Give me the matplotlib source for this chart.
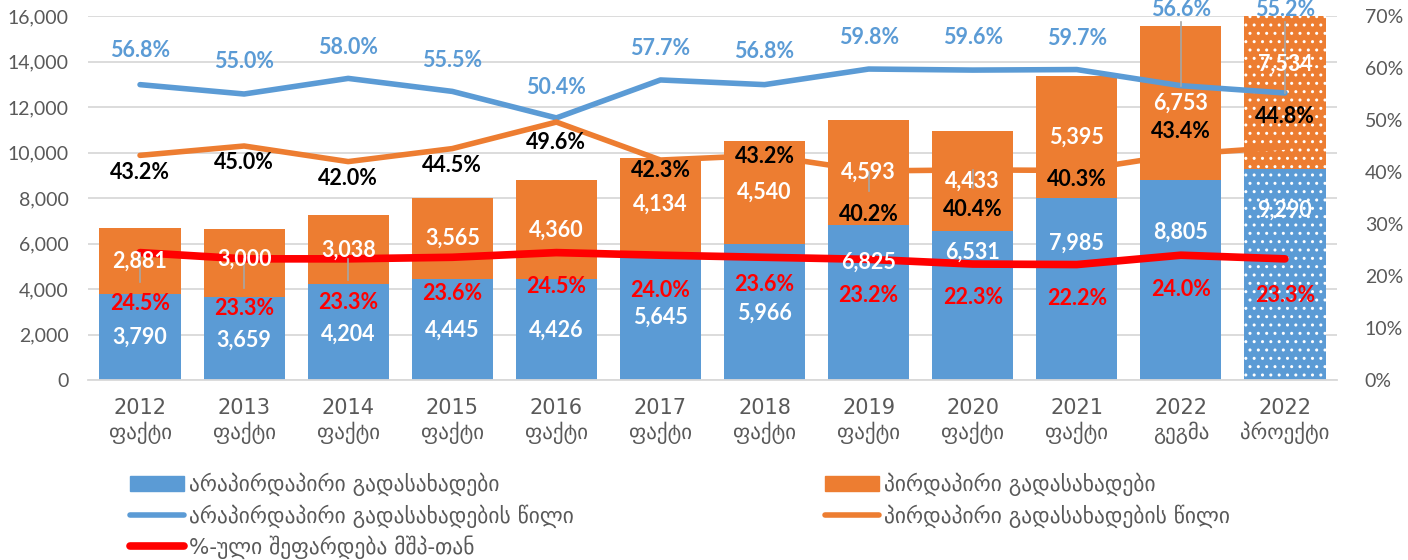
import matplotlib
matplotlib.use("Agg")
import matplotlib.pyplot as plt
from matplotlib.ticker import FuncFormatter
from matplotlib.patches import Patch
from matplotlib.lines import Line2D
import numpy as np

# data
years = ['2012', '2013', '2014', '2015', '2016', '2017', '2018', '2019', '2020', '2021', '2022', '2022']
kinds = ['ფაქტი'] * 10 + ['გეგმა', 'პროექტი']
indirect = [3790, 3659, 4204, 4445, 4426, 5645, 5966, 6825, 6531, 7985, 8805, 9290]
direct = [2881, 3000, 3038, 3565, 4360, 4134, 4540, 4593, 4433, 5395, 6753, 7534]
indirect_share = [56.8, 55.0, 58.0, 55.5, 50.4, 57.7, 56.8, 59.8, 59.6, 59.7, 56.6, 55.2]
direct_share = [43.2, 45.0, 42.0, 44.5, 49.6, 42.3, 43.2, 40.2, 40.4, 40.3, 43.4, 44.8]
gdp_ratio = [24.5, 23.3, 23.3, 23.6, 24.5, 24.0, 23.6, 23.2, 22.3, 22.2, 24.0, 23.3]

legend_names = ['არაპირდაპირი გადასახადები', 'პირდაპირი გადასახადები',
                'არაპირდაპირი გადასახადების წილი', 'პირდაპირი გადასახადების წილი',
                '%-ული შეფარდება მშპ-თან']

# label placement (layout only, right-axis % units / left-axis units)
ind_lab_y = [1890, 1758, 2022, 2198, 2198, 2769, 2945, 5187, 5626, 6022, 6505, 7473]
dir_lab_y = [5230, 5290, 5723, 6227, 6606, 7712, 8236, 9121, 8747, 10682, 12181, 13890]
ish_lab_y = [63.3, 61.2, 64.0, 61.5, 56.3, 63.8, 63.1, 65.8, 65.8, 65.6, 71.2, 71.2]
dsh_lab_y = [40.0, 41.9, 38.8, 41.3, 45.6, 40.2, 42.9, 31.9, 32.7, 38.5, 47.7, 50.6]
gdp_lab_y = [14.8, 13.8, 15.0, 16.7, 17.9, 17.3, 18.3, 16.3, 15.8, 15.6, 17.5, 16.3]

BLUE = '#5B9BD5'
ORANGE = '#ED7D31'
RED = '#FF0000'
GRAY = '#595959'
GRID = '#D9D9D9'
NUMFONT = ['Lato', 'DejaVu Sans']
NARROW = ['Liberation Sans Narrow', 'DejaVu Sans']

plt.rcParams['font.family'] = ['Lato', 'DejaVu Sans']
plt.rcParams['hatch.linewidth'] = 1.0

fig = plt.figure(figsize=(14.08, 5.6), dpi=100)
ax = fig.add_axes([88 / 1408, 1 - 380 / 560, (1337 - 88) / 1408, 364 / 560])
x = np.arange(len(years))

for i in x:
    last = i == len(years) - 1
    ax.bar(i, indirect[i], width=0.78, color=BLUE, linewidth=0,
           hatch='..' if last else None, edgecolor='white' if last else BLUE, zorder=2)
    ax.bar(i, direct[i], bottom=indirect[i], width=0.78, color=ORANGE, linewidth=0,
           hatch='..' if last else None, edgecolor='white' if last else ORANGE, zorder=2)

ax.set_xlim(-0.5, len(years) - 0.5)
ax.set_ylim(0, 16000)
ax.set_yticks(range(0, 16001, 2000))
ax.yaxis.set_major_formatter(FuncFormatter(lambda v, p: f'{int(v):,}'))
ax.grid(axis='y', color=GRID, linewidth=1.3, zorder=0)
ax.set_axisbelow(True)
for s in ['top', 'right', 'left']:
    ax.spines[s].set_visible(False)
ax.spines['bottom'].set_color(GRID)
ax.spines['bottom'].set_linewidth(1.3)
ax.tick_params(axis='y', length=0, pad=14, labelsize=14, labelcolor=GRAY)
ax.set_xticks(x)
ax.set_xticklabels([f'{y}\n{k}' for y, k in zip(years, kinds)], fontsize=15, color=GRAY,
                   linespacing=1.2, family=NARROW)
ax.tick_params(axis='x', length=0, pad=13)

ax2 = ax.twinx()
ax2.set_ylim(0, 70)
ax2.set_yticks(range(0, 71, 10))
ax2.yaxis.set_major_formatter(FuncFormatter(lambda v, p: f'{int(v)}%'))
ax2.tick_params(axis='y', length=0, pad=20, labelsize=14, labelcolor=GRAY)
for s in ax2.spines.values():
    s.set_visible(False)

ax2.plot(x, indirect_share, color=BLUE, linewidth=4, solid_capstyle='round', zorder=3)
ax2.plot(x, direct_share, color=ORANGE, linewidth=4, solid_capstyle='round', zorder=3)
ax2.plot(x, gdp_ratio, color=RED, linewidth=5.5, solid_capstyle='round', zorder=4)

# leader lines
leaders = [(0, gdp_ratio[0], 18.8), (1, gdp_ratio[1], 17.7), (2, gdp_ratio[2], 19.2),
           (7, 40.0, 36.3), (8, 40.4, 36.9), (10, indirect_share[10], 68.8),
           (11, indirect_share[11], 68.8)]
for i, y0, y1 in leaders:
    ax2.plot([i, i], [y0, y1], color='#A6A6A6', linewidth=1.2, zorder=5)

lab = dict(ha='center', va='center', fontsize=15.5, fontweight='bold', family=NUMFONT, zorder=6)
for i in x:
    ax2.text(i, ind_lab_y[i], f'{indirect[i]:,}', color='white', transform=ax.transData, **lab)
    ax2.text(i, dir_lab_y[i], f'{direct[i]:,}', color='white', transform=ax.transData, **lab)
    ax2.text(i, ish_lab_y[i], f'{indirect_share[i]:.1f}%', color=BLUE, clip_on=False, **lab)
    ax2.text(i, dsh_lab_y[i], f'{direct_share[i]:.1f}%', color='black', **lab)
    ax2.text(i, gdp_lab_y[i], f'{gdp_ratio[i]:.1f}%', color=RED, **lab)

# legend, two separate columns
h1 = [Patch(color=BLUE), Line2D([], [], color=BLUE, linewidth=4, solid_capstyle='round'),
      Line2D([], [], color=RED, linewidth=5.5, solid_capstyle='round')]
h2 = [Patch(color=ORANGE), Line2D([], [], color=ORANGE, linewidth=4, solid_capstyle='round')]
legkw = dict(loc='upper left', frameon=False, handlelength=2.5, handletextpad=0.25,
             labelspacing=0.36, borderaxespad=0, borderpad=0,
             prop={'family': ['DejaVu Sans'], 'size': 15.5}, labelcolor=GRAY)
fig.legend(h1, [legend_names[0], legend_names[2], legend_names[4]],
           bbox_to_anchor=(130 / 1408, 1 - 473 / 560), **legkw)
fig.legend(h2, [legend_names[1], legend_names[3]],
           bbox_to_anchor=(825 / 1408, 1 - 473 / 560), **legkw)

fig.savefig('out.png', dpi=100)
